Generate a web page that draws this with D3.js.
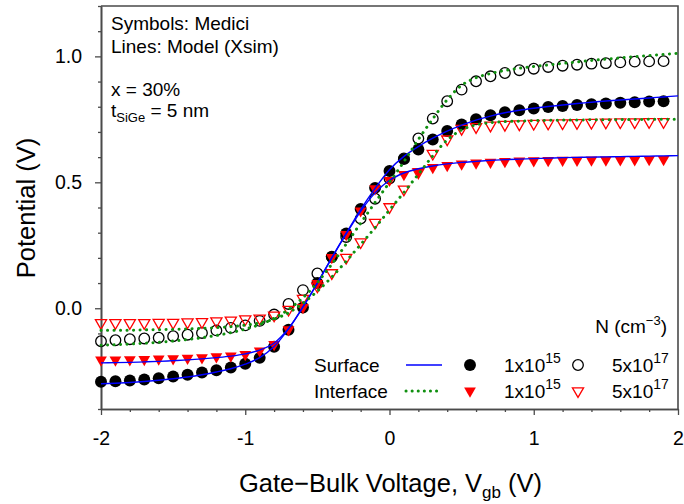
<!DOCTYPE html>
<html>
<head>
<meta charset="utf-8">
<script src="https://cdn.jsdelivr.net/npm/d3@7"></script>
<style>
  body { margin: 0; background: #fff; }
  svg { display: block; }
  text { font-family: "Liberation Sans", Arial, Helvetica, sans-serif; fill: #000; }
</style>
</head>
<body>
<svg id="chart" width="684" height="504"></svg>
<script>
// Gate-bulk voltage sample points (V) for the Medici symbols
const vgbMedici = [
  -2.0, -1.9, -1.8, -1.7, -1.6, -1.5, -1.4, -1.3, -1.2, -1.1,
  -1.0, -0.9, -0.8, -0.7, -0.6, -0.5, -0.4, -0.3, -0.2, -0.1,
   0.0,  0.1,  0.2,  0.3,  0.4,  0.5,  0.6,  0.7,  0.8,  0.9,
   1.0,  1.1,  1.2,  1.3,  1.4,  1.5,  1.6,  1.7,  1.8,  1.9
];
// Gate-bulk voltage points (V) for the Xsim model curves
const vgbModel = [
  -2.0, -1.9, -1.8, -1.7, -1.6, -1.5, -1.4, -1.3, -1.2, -1.1,
  -1.0, -0.9, -0.8, -0.7, -0.6, -0.5, -0.4, -0.3, -0.2, -0.1,
   0.0,  0.1,  0.2,  0.3,  0.4,  0.5,  0.6,  0.7,  0.8,  0.9,
   1.0,  1.1,  1.2,  1.3,  1.4,  1.5,  1.6,  1.7,  1.8,  1.9, 2.0
];

// Medici: surface potential, N = 1e15 (filled circles)
const mediciSurf15 = [
  -0.292, -0.290, -0.287, -0.283, -0.278, -0.271, -0.264, -0.255, -0.246, -0.235,
  -0.220, -0.197, -0.153, -0.085,  0.003,  0.100,  0.205,  0.297,  0.394,  0.478,
   0.545,  0.592,  0.630,  0.670,  0.704,  0.730,  0.750,  0.766,  0.778,  0.786,
   0.793,  0.799,  0.803,  0.807,  0.810,  0.813,  0.816,  0.818,  0.821,  0.822
];
// Medici: surface potential, N = 5e17 (open circles)
const mediciSurf517 = [
  -0.131, -0.127, -0.123, -0.120, -0.117, -0.111, -0.105, -0.098, -0.088, -0.078,
  -0.068, -0.050, -0.025,  0.017,  0.072,  0.138,  0.203,  0.283,  0.356,  0.435,
   0.515,  0.595,  0.674,  0.753,  0.822,  0.868,  0.901,  0.921,  0.934,  0.945,
   0.951,  0.958,  0.963,  0.967,  0.971,  0.973,  0.976,  0.979,  0.980,  0.981
];
// Medici: Si/SiGe interface potential, N = 1e15 (filled triangles)
const mediciInt15 = [
  -0.205, -0.205, -0.204, -0.203, -0.201, -0.200, -0.198, -0.196, -0.192, -0.189,
  -0.183, -0.169, -0.144, -0.085,  0.003,  0.099,  0.202,  0.293,  0.387,  0.475,
   0.508,  0.531,  0.543,  0.559,  0.567,  0.573,  0.577,  0.580,  0.583,  0.585,
   0.586,  0.587,  0.588,  0.588,  0.589,  0.589,  0.590,  0.590,  0.591,  0.591
];
// Medici: Si/SiGe interface potential, N = 5e17 (open triangles)
const mediciInt517 = [
  -0.058, -0.058, -0.058, -0.058, -0.057, -0.057, -0.055, -0.054, -0.051, -0.048,
  -0.043, -0.040, -0.028, -0.005,  0.038,  0.087,  0.140,  0.201,  0.263,  0.340,
   0.402,  0.472,  0.540,  0.614,  0.671,  0.713,  0.720,  0.726,  0.729,  0.731,
   0.733,  0.734,  0.735,  0.736,  0.737,  0.738,  0.739,  0.739,  0.740,  0.740
];

// Xsim model curves
const modelSurf15 = [
  -0.300, -0.298, -0.295, -0.291, -0.286, -0.280, -0.273, -0.264, -0.253, -0.240,
  -0.222, -0.196, -0.152, -0.082,  0.005,  0.100,  0.200,  0.298,  0.392,  0.476,
   0.550,  0.603,  0.642,  0.675,  0.703,  0.727,  0.747,  0.763,  0.776,  0.786,
   0.794,  0.801,  0.807,  0.813,  0.818,  0.823,  0.827,  0.831,  0.835,  0.839, 0.843
];
const modelInt15 = [
  -0.217, -0.216, -0.215, -0.213, -0.211, -0.208, -0.205, -0.201, -0.196, -0.190,
  -0.181, -0.166, -0.138, -0.080,  0.005,  0.100,  0.200,  0.295,  0.385,  0.458,
   0.508,  0.537,  0.554,  0.565,  0.573,  0.579,  0.583,  0.587,  0.590,  0.592,
   0.594,  0.596,  0.598,  0.599,  0.600,  0.601,  0.602,  0.603,  0.604,  0.605, 0.606
];
const modelSurf517 = [
  -0.147, -0.145, -0.142, -0.139, -0.135, -0.130, -0.124, -0.117, -0.108, -0.097,
  -0.083, -0.065, -0.040, -0.005,  0.042,  0.102,  0.175,  0.255,  0.338,  0.420,
   0.500,  0.582,  0.670,  0.752,  0.828,  0.885,  0.915,  0.932,  0.944,  0.953,
   0.960,  0.966,  0.972,  0.978,  0.984,  0.989,  0.994,  0.999,  1.003,  1.008, 1.012
];
const modelInt517 = [
  -0.087, -0.087, -0.087, -0.086, -0.085, -0.084, -0.082, -0.080, -0.077, -0.073,
  -0.067, -0.058, -0.043, -0.018,  0.020,  0.068,  0.124,  0.187,  0.253,  0.320,
   0.390,  0.460,  0.532,  0.605,  0.668,  0.708,  0.728,  0.737,  0.741,  0.743,
   0.745,  0.746,  0.747,  0.747,  0.748,  0.748,  0.749,  0.749,  0.750,  0.750, 0.750
];

// Axis ticks
const xMajorTicks = [-2, -1, 0, 1, 2];
const xMinorTicks = [-1.8, -1.6, -1.4, -1.2, -0.8, -0.6, -0.4, -0.2, 0.2, 0.4, 0.6, 0.8, 1.2, 1.4, 1.6, 1.8];
const yMajorTicks = [0.0, 0.5, 1.0];
const yMinorTicks = [-0.4, -0.3, -0.2, -0.1, 0.1, 0.2, 0.3, 0.4, 0.6, 0.7, 0.8, 0.9, 1.1, 1.2];

const BLUE = "#0000ff", GREEN = "#109010", RED = "#ff0000", AXIS = "#4a4a4a";

const svg = d3.select("#chart");
const plotLeft = 101, plotRight = 678, plotTop = 6, plotBottom = 409;
const x = d3.scaleLinear().domain([-2, 2]).range([plotLeft, plotRight]);
const y = d3.scaleLinear().domain([-0.4, 1.2]).range([plotBottom, plotTop]);

// ---- axes ----
function styleAxis(g) {
  g.selectAll("path.domain").attr("stroke", AXIS).attr("stroke-width", 1.6);
  g.selectAll(".tick line").attr("stroke", AXIS).attr("stroke-width", 1.3);
  g.selectAll(".tick text").attr("fill", "#111")
    .style("font-family", '"Liberation Sans", Arial, sans-serif');
}

const gx = svg.append("g").attr("transform", `translate(0,${plotBottom})`)
  .call(d3.axisBottom(x).tickValues(xMajorTicks).tickSize(6).tickPadding(16)
    .tickFormat(d => String(d)).tickSizeOuter(0));
gx.selectAll(".tick text").style("font-size", "19.5px");
styleAxis(gx);
const gxm = svg.append("g").attr("transform", `translate(0,${plotBottom})`)
  .call(d3.axisBottom(x).tickValues(xMinorTicks).tickSize(3).tickFormat("").tickSizeOuter(0));
styleAxis(gxm);

const gy = svg.append("g").attr("transform", `translate(${plotLeft},0)`)
  .call(d3.axisLeft(y).tickValues(yMajorTicks).tickSize(6).tickPadding(13)
    .tickFormat(d3.format(".1f")).tickSizeOuter(0));
gy.selectAll(".tick text").style("font-size", "19.5px");
styleAxis(gy);
const gym = svg.append("g").attr("transform", `translate(${plotLeft},0)`)
  .call(d3.axisLeft(y).tickValues(yMinorTicks).tickSize(3).tickFormat("").tickSizeOuter(0));
styleAxis(gym);

// top and right frame
svg.append("path")
  .attr("d", `M${plotLeft},${plotTop}H${plotRight}V${plotBottom}`)
  .attr("fill", "none").attr("stroke", AXIS).attr("stroke-width", 1.6);

// ---- axis titles ----
const xt = svg.append("text").attr("x", (plotLeft + plotRight) / 2 + 1).attr("y", 492)
  .attr("text-anchor", "middle").style("font-size", "25.5px");
xt.append("tspan").text("Gate\u2212Bulk Voltage, V");
xt.append("tspan").attr("dy", 6).style("font-size", "17px").text("gb");
xt.append("tspan").attr("dy", -6).text(" (V)");

svg.append("text")
  .attr("transform", "translate(35,208) rotate(-90)")
  .attr("text-anchor", "middle").style("font-size", "25.5px")
  .text("Potential (V)");

// ---- symbols ----
const plot = svg.append("g");

function drawSymbols(values, kind, filled, color, size) {
  const gen = d3.symbol().type(kind === "circle" ? d3.symbolCircle : d3.symbolTriangle).size(size);
  const d = gen();
  plot.append("g").selectAll("path")
    .data(vgbMedici.map((v, i) => [v, values[i]]))
    .join("path")
    .attr("d", d)
    .attr("transform", p => `translate(${x(p[0])},${y(p[1])})` + (kind === "tri" ? " rotate(180)" : ""))
    .attr("fill", filled ? color : "none")
    .attr("stroke", filled ? "none" : color)
    .attr("stroke-width", filled ? 0 : 1.3);
}

const SIZE_DOT = 112, SIZE_RING = 88, SIZE_TRI = 60, SIZE_TRI_OPEN = 54;
drawSymbols(mediciSurf15, "circle", true, "#000", SIZE_DOT);
drawSymbols(mediciSurf517, "circle", false, "#000", SIZE_RING);
drawSymbols(mediciInt15, "tri", true, RED, SIZE_TRI);
drawSymbols(mediciInt517, "tri", false, RED, SIZE_TRI_OPEN);

// ---- model curves ----
const line = d3.line().x(p => x(p[0])).y(p => y(p[1])).curve(d3.curveMonotoneX);
function drawModel(values, color, dotted) {
  const path = plot.append("path")
    .datum(vgbModel.map((v, i) => [v, values[i]]))
    .attr("d", line)
    .attr("fill", "none")
    .attr("stroke", color);
  if (dotted) {
    path.attr("stroke-width", 3).attr("stroke-linecap", "round").attr("stroke-dasharray", "0.1,6.4");
  } else {
    path.attr("stroke-width", 1.4);
  }
}
drawModel(modelSurf15, BLUE, false);
drawModel(modelInt15, BLUE, false);
drawModel(modelSurf517, GREEN, true);
drawModel(modelInt517, GREEN, true);

// ---- annotations ----
const fs = "19px";
svg.append("text").attr("x", 111).attr("y", 30).style("font-size", fs).text("Symbols: Medici");
svg.append("text").attr("x", 111).attr("y", 53).style("font-size", fs).text("Lines: Model (Xsim)");
svg.append("text").attr("x", 111).attr("y", 96).style("font-size", fs).text("x = 30%");
const tt = svg.append("text").attr("x", 111).attr("y", 117).style("font-size", fs);
tt.append("tspan").text("t");
tt.append("tspan").attr("dy", 5).style("font-size", "13px").text("SiGe");
tt.append("tspan").attr("dy", -5).text(" = 5 nm");

// ---- legend ----
const leg = svg.append("g");
const nt = leg.append("text").attr("x", 667).attr("y", 333).attr("text-anchor", "end").style("font-size", fs);
nt.append("tspan").text("N (cm");
nt.append("tspan").attr("dy", -8).style("font-size", "13px").text("\u22123");
nt.append("tspan").attr("dy", 8).text(")");

function powLabel(xp, yp, mant, exp) {
  const t = leg.append("text").attr("x", xp).attr("y", yp).style("font-size", fs);
  t.append("tspan").text(mant);
  t.append("tspan").attr("dy", -9).style("font-size", "14px").text(exp);
}

const rows = [
  { label: "Surface", baseline: 372, mid: 365, color: BLUE, dotted: false, kind: "circle", col: "#000", sizes: [SIZE_DOT, SIZE_RING] },
  { label: "Interface", baseline: 398, mid: 391, color: GREEN, dotted: true, kind: "tri", col: RED, sizes: [SIZE_TRI, SIZE_TRI_OPEN] }
];
rows.forEach(r => {
  leg.append("text").attr("x", 314).attr("y", r.baseline).style("font-size", fs).text(r.label);
  const ln = leg.append("line").attr("x1", 406).attr("x2", 442).attr("y1", r.mid).attr("y2", r.mid)
    .attr("stroke", r.color);
  if (r.dotted) ln.attr("stroke-width", 3).attr("stroke-linecap", "round").attr("stroke-dasharray", "0.1,6");
  else ln.attr("stroke-width", 1.4);
  const type = r.kind === "circle" ? d3.symbolCircle : d3.symbolTriangle;
  const rot = r.kind === "tri" ? " rotate(180)" : "";
  leg.append("path").attr("d", d3.symbol().type(type).size(r.sizes[0])())
    .attr("transform", `translate(470,${r.mid})` + rot).attr("fill", r.col);
  leg.append("path").attr("d", d3.symbol().type(type).size(r.sizes[1])())
    .attr("transform", `translate(578,${r.mid})` + rot)
    .attr("fill", "none").attr("stroke", r.col).attr("stroke-width", 1.3);
  powLabel(504, r.baseline, "1x10", "15");
  powLabel(612, r.baseline, "5x10", "17");
});
</script>
</body>
</html>
